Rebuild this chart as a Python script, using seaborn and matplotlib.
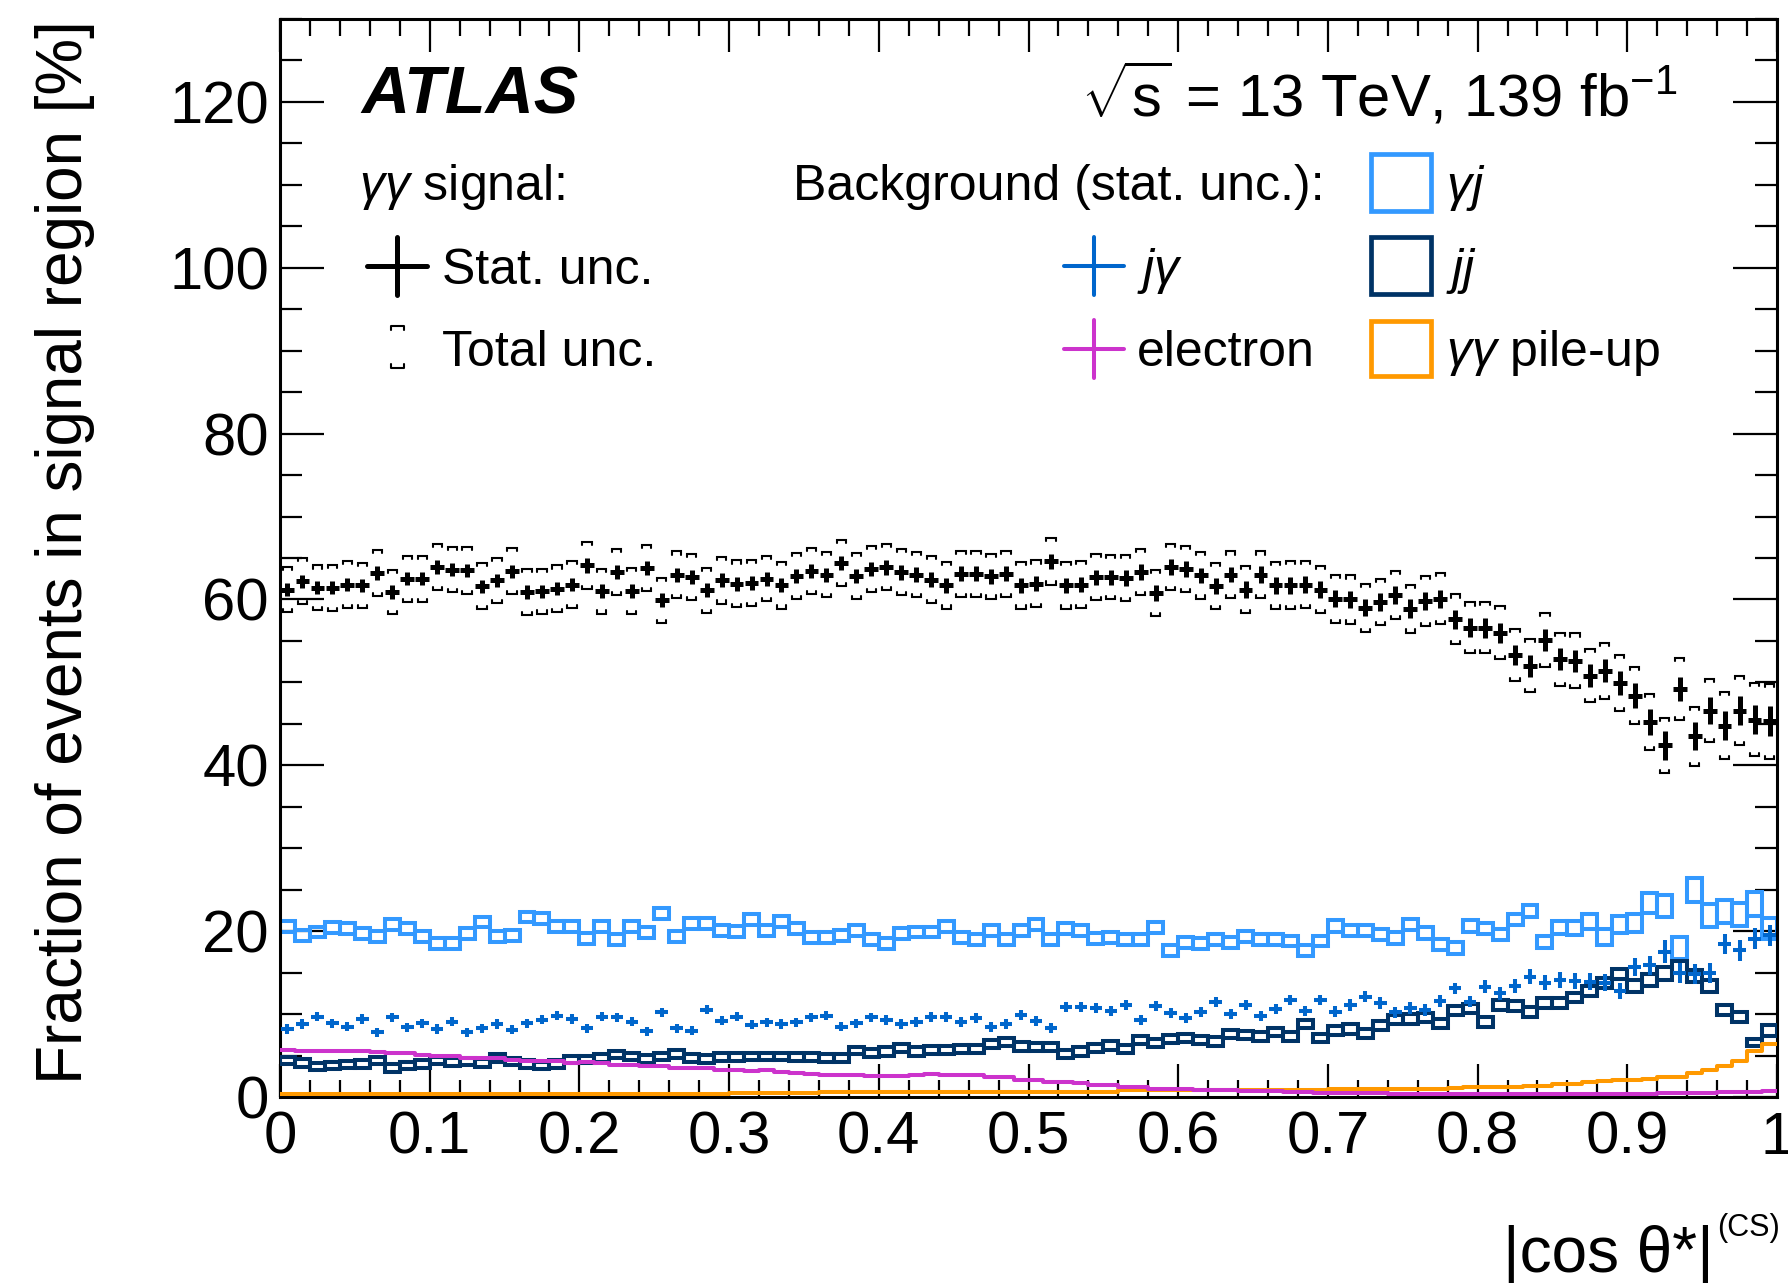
import numpy as np
import pandas as pd
import matplotlib
matplotlib.use("Agg")
import matplotlib.pyplot as plt
import seaborn as sns
from matplotlib.lines import Line2D
from matplotlib.patches import Rectangle
from matplotlib.ticker import MultipleLocator, FuncFormatter

# ---------------- data (100 bins of |cos theta*|, width 0.01) ----------------
bin_edges = np.linspace(0.0, 1.0, 101)

signal = [61.2, 62.2, 61.4, 61.4, 61.8, 61.7, 63.2, 60.9, 62.5, 62.5,
          63.9, 63.6, 63.5, 61.6, 62.3, 63.4, 60.9, 61.0, 61.3, 61.8,
          64.1, 61.0, 63.3, 61.0, 63.8, 59.9, 63.0, 62.7, 61.1, 62.3,
          61.9, 62.0, 62.5, 61.7, 62.8, 63.4, 63.0, 64.4, 62.8, 63.7,
          63.9, 63.3, 63.0, 62.4, 61.7, 63.1, 63.1, 62.8, 63.1, 61.7,
          61.9, 64.6, 61.7, 61.8, 62.7, 62.7, 62.6, 63.3, 60.8, 63.9,
          63.7, 62.9, 61.6, 63.0, 61.2, 63.0, 61.7, 61.7, 61.8, 61.2,
          60.1, 60.0, 59.0, 59.7, 60.5, 58.9, 59.8, 60.1, 57.6, 56.6,
          56.6, 56.0, 53.3, 52.0, 55.1, 52.8, 52.6, 50.8, 51.4, 49.9,
          48.4, 45.2, 42.4, 49.2, 43.5, 46.6, 44.8, 46.6, 45.5, 45.3]

signal_stat = [0.8, 0.8, 0.8, 0.8, 0.8, 0.8, 0.8, 0.8, 0.8, 0.8,
               0.8, 0.8, 0.8, 0.8, 0.8, 0.8, 0.8, 0.8, 0.8, 0.8,
               0.85, 0.85, 0.85, 0.85, 0.85, 0.85, 0.85, 0.85, 0.85, 0.85,
               0.85, 0.85, 0.85, 0.85, 0.85, 0.85, 0.85, 0.85, 0.85, 0.85,
               0.9, 0.9, 0.9, 0.9, 0.9, 0.9, 0.9, 0.9, 0.9, 0.9,
               0.9, 0.9, 0.9, 0.9, 0.9, 0.9, 0.95, 0.95, 0.95, 0.95,
               0.95, 0.95, 0.95, 0.95, 1.0, 1.0, 1.0, 1.0, 1.0, 1.0,
               1.05, 1.05, 1.05, 1.05, 1.1, 1.1, 1.1, 1.1, 1.15, 1.15,
               1.2, 1.2, 1.25, 1.3, 1.3, 1.35, 1.35, 1.4, 1.4, 1.45,
               1.5, 1.55, 1.7, 1.5, 1.7, 1.65, 1.8, 1.7, 1.75, 1.8]

signal_total = [2.7, 2.8, 2.7, 2.8, 2.8, 2.7, 2.8, 2.7, 2.8, 2.8,
                2.8, 2.7, 2.8, 2.8, 2.7, 2.8, 2.8, 2.7, 2.8, 2.8,
                2.8, 2.7, 2.8, 2.8, 2.8, 2.7, 2.8, 2.8, 2.7, 2.8,
                2.8, 2.8, 2.7, 2.8, 2.8, 2.8, 2.7, 2.8, 2.8, 2.8,
                2.8, 2.8, 2.7, 2.8, 2.8, 2.8, 2.8, 2.7, 2.8, 2.8,
                2.8, 2.8, 2.8, 2.8, 2.8, 2.7, 2.8, 2.8, 2.8, 2.8,
                2.8, 2.8, 2.8, 2.8, 2.8, 2.8, 2.8, 2.9, 2.8, 2.8,
                2.9, 2.9, 2.9, 2.8, 2.9, 2.9, 3.0, 3.1, 3.0, 3.05,
                3.1, 3.2, 3.1, 3.2, 3.3, 3.2, 3.3, 3.2, 3.4, 3.4,
                3.45, 3.4, 3.3, 3.7, 3.55, 3.8, 4.0, 4.2, 4.4, 4.5]

bkg_gj = [20.6, 19.5, 19.9, 20.4, 20.3, 19.7, 19.4, 20.8, 20.3, 19.4,
          18.5, 18.5, 19.7, 21.1, 19.4, 19.5, 21.7, 21.5, 20.6, 20.6,
          19.1, 20.6, 19.0, 20.6, 19.8, 22.1, 19.4, 20.9, 20.9, 20.1,
          20.0, 21.4, 20.1, 21.2, 20.3, 19.2, 19.2, 19.5, 20.1, 19.0,
          18.5, 19.7, 19.9, 19.9, 20.6, 19.2, 19.0, 20.1, 19.0, 20.1,
          20.8, 19.0, 20.3, 20.1, 19.1, 19.2, 19.0, 19.0, 20.4, 17.7,
          18.6, 18.5, 19.0, 18.6, 19.4, 19.0, 19.0, 18.8, 17.7, 18.8,
          20.6, 20.1, 20.1, 19.6, 19.2, 20.8, 19.8, 18.4, 18.0, 20.6,
          20.3, 19.6, 21.4, 22.4, 18.7, 20.4, 20.4, 21.2, 19.3, 20.8,
          21.0, 23.4, 23.0, 18.0, 25.0, 21.9, 22.4, 22.0, 23.3, 20.3]

bkg_gj_err = [0.65] * 70 + [0.7] * 15 + [0.8, 0.85, 0.9, 0.95, 1.0,
              1.1, 1.25, 1.3, 1.3, 1.45, 1.4, 1.4, 1.35, 1.45, 1.3]

bkg_jg = [8.2, 8.8, 9.7, 8.9, 8.5, 9.4, 7.8, 9.6, 8.4, 8.9,
          8.2, 9.1, 7.8, 8.3, 8.8, 8.1, 8.9, 9.3, 9.8, 9.4,
          8.3, 9.7, 9.6, 9.1, 7.9, 10.2, 8.3, 8.0, 10.5, 9.2,
          9.7, 8.7, 9.0, 8.8, 9.0, 9.6, 9.8, 8.5, 8.9, 9.6,
          9.3, 8.8, 9.1, 9.6, 9.7, 9.1, 9.5, 8.4, 8.8, 9.9,
          9.2, 8.3, 10.8, 10.8, 10.7, 10.4, 11.1, 9.3, 11.0, 10.1,
          9.5, 10.2, 11.5, 10.0, 11.1, 9.8, 10.6, 11.7, 10.4, 11.7,
          10.3, 11.1, 12.1, 11.3, 10.2, 10.7, 10.5, 11.6, 13.1, 11.5,
          13.3, 12.5, 13.4, 14.5, 13.8, 14.1, 14.0, 13.9, 13.8, 12.8,
          15.7, 15.9, 17.5, 14.9, 14.8, 15.0, 18.5, 17.7, 19.1, 19.5]

bkg_jg_err = [0.55] * 40 + [0.6] * 30 + [0.7] * 10 + [0.8, 0.8, 0.85, 0.9, 0.9,
              0.95, 0.95, 1.0, 1.0, 1.0, 1.1, 1.15, 1.4, 1.2, 1.2,
              1.2, 1.2, 1.25, 1.25, 1.3]

bkg_jj = [4.4, 4.1, 3.7, 3.8, 3.9, 4.0, 4.4, 3.5, 3.8, 4.0,
          4.4, 4.2, 4.3, 4.1, 4.7, 4.3, 4.0, 3.8, 4.0, 4.5,
          4.5, 4.7, 5.1, 4.9, 4.6, 4.9, 5.2, 4.7, 4.6, 4.8,
          4.8, 4.9, 4.9, 4.9, 4.8, 4.8, 4.7, 4.7, 5.6, 5.3,
          5.5, 5.9, 5.5, 5.7, 5.7, 5.8, 5.8, 6.4, 6.6, 6.1,
          6.0, 6.0, 5.2, 5.5, 5.9, 6.2, 5.8, 6.9, 6.5, 7.0,
          7.1, 6.9, 6.7, 7.6, 7.5, 7.3, 7.8, 7.3, 8.8, 7.1,
          8.0, 8.2, 7.7, 8.6, 9.3, 9.4, 9.6, 8.9, 10.4, 10.7,
          9.0, 11.1, 11.0, 10.2, 11.3, 11.3, 12.0, 12.8, 13.7, 14.8,
          13.4, 14.1, 14.9, 15.7, 14.6, 13.4, 10.5, 9.7, 6.6, 8.0]

bkg_jj_err = [0.45] * 40 + [0.5] * 30 + [0.55] * 10 + [0.6] * 10 + [0.7, 0.7, 0.75,
              0.75, 0.75, 0.75, 0.6, 0.6, 0.4, 0.65]

bkg_electron = [5.7, 5.6, 5.6, 5.5, 5.5, 5.5, 5.4, 5.3, 5.3, 5.1,
                5.0, 4.9, 4.7, 4.7, 4.7, 4.5, 4.4, 4.4, 4.3, 4.1,
                4.2, 4.1, 3.9, 3.8, 3.7, 3.7, 3.5, 3.5, 3.5, 3.3,
                3.3, 3.1, 3.2, 3.0, 2.9, 2.8, 2.7, 2.7, 2.6, 2.5,
                2.5, 2.5, 2.7, 2.8, 2.7, 2.6, 2.6, 2.4, 2.4, 2.1,
                2.1, 1.8, 1.8, 1.7, 1.4, 1.4, 1.2, 1.2, 1.0, 1.0,
                1.0, 0.8, 0.8, 0.8, 0.75, 0.7, 0.7, 0.6, 0.6, 0.5,
                0.45, 0.45, 0.45, 0.45, 0.4, 0.4, 0.4, 0.4, 0.4, 0.4,
                0.4, 0.4, 0.4, 0.4, 0.4, 0.4, 0.4, 0.4, 0.4, 0.4,
                0.4, 0.4, 0.45, 0.45, 0.45, 0.5, 0.55, 0.6, 0.65, 0.7]

bkg_pileup = [0.4, 0.4, 0.4, 0.4, 0.4, 0.4, 0.4, 0.4, 0.4, 0.4,
              0.4, 0.4, 0.4, 0.4, 0.4, 0.4, 0.4, 0.4, 0.4, 0.4,
              0.4, 0.4, 0.4, 0.4, 0.4, 0.4, 0.4, 0.4, 0.4, 0.4,
              0.5, 0.5, 0.5, 0.5, 0.5, 0.5, 0.55, 0.55, 0.55, 0.55,
              0.6, 0.6, 0.6, 0.6, 0.6, 0.6, 0.65, 0.65, 0.65, 0.65,
              0.65, 0.65, 0.65, 0.65, 0.65, 0.65, 0.8, 0.8, 0.8, 0.8,
              0.8, 0.85, 0.85, 0.85, 0.85, 0.85, 0.85, 0.9, 0.9, 0.9,
              0.95, 1.0, 1.0, 1.0, 1.0, 1.0, 1.0, 1.0, 1.05, 1.2,
              1.2, 1.25, 1.25, 1.3, 1.3, 1.6, 1.6, 1.8, 1.9, 2.0,
              2.1, 2.2, 2.4, 2.4, 2.9, 3.3, 3.7, 4.4, 5.5, 6.4]

x_ticks = [0.0, 0.1, 0.2, 0.3, 0.4, 0.5, 0.6, 0.7, 0.8, 0.9, 1.0]
y_ticks = [0, 20, 40, 60, 80, 100, 120]

C_GJ = "#3399FF"
C_JG = "#0066CC"
C_JJ = "#003366"
C_EL = "#CC33CC"
C_PU = "#FF9900"

# ---------------- style ----------------
sns.set_theme(style="ticks")
plt.rcParams["font.family"] = ["Liberation Sans", "DejaVu Sans"]
plt.rcParams["mathtext.fontset"] = "custom"
plt.rcParams["mathtext.rm"] = "Liberation Sans"
plt.rcParams["mathtext.it"] = "Liberation Sans:italic"
plt.rcParams["mathtext.bf"] = "Liberation Sans:bold"
for k in ["text.color", "axes.labelcolor", "xtick.color", "ytick.color", "axes.edgecolor"]:
    plt.rcParams[k] = "black"

W, H = 1788, 1283
fig = plt.figure(figsize=(W / 100, H / 100), dpi=100)
fig.patch.set_facecolor("white")
ax = fig.add_axes([280 / W, 1 - 1097 / H, 1497 / W, 1078 / H])
ax.set_facecolor("white")

centers = 0.5 * (bin_edges[:-1] + bin_edges[1:])
width = np.diff(bin_edges)

sig = np.array(signal)
sstat = np.array(signal_stat)
stot = np.array(signal_total)


def boxes(vals, errs, color, z, lw=2.9):
    v = np.array(vals)
    e = np.array(errs)
    ax.bar(centers, 2 * e, bottom=v - e, width=width, fill=False,
           edgecolor=color, linewidth=lw, zorder=z, align="center")


# background: gamma-j boxes
boxes(bkg_gj, bkg_gj_err, C_GJ, 2)
# jj boxes
boxes(bkg_jj, bkg_jj_err, C_JJ, 3)
# j-gamma crosses
ax.errorbar(centers, bkg_jg, yerr=bkg_jg_err, xerr=0.0042, fmt="none",
            ecolor=C_JG, elinewidth=2.9, capsize=0, zorder=4)

# pile-up and electron as step lines (seaborn)
df_pu = pd.DataFrame({"x": bin_edges, "y": np.append(bkg_pileup, bkg_pileup[-1])})
df_el = pd.DataFrame({"x": bin_edges, "y": np.append(bkg_electron, bkg_electron[-1])})
sns.lineplot(data=df_pu, x="x", y="y", ax=ax, color=C_PU, lw=2.9,
             drawstyle="steps-post", estimator=None, sort=False, legend=False, zorder=5)
sns.lineplot(data=df_el, x="x", y="y", ax=ax, color=C_EL, lw=2.9,
             drawstyle="steps-post", estimator=None, sort=False, legend=False, zorder=5.5)

# signal total uncertainty brackets
bw = 0.0031
leg = 0.38
bx, by = [], []
for xc, yc, t in zip(centers, sig, stot):
    up, lo = yc + t, yc - t
    bx += [xc - bw, xc - bw, xc + bw, xc + bw, np.nan]
    by += [up - leg, up, up, up - leg, np.nan]
    bx += [xc - bw, xc - bw, xc + bw, xc + bw, np.nan]
    by += [lo + leg, lo, lo, lo + leg, np.nan]
ax.plot(bx, by, color="black", lw=1.5, zorder=9, solid_joinstyle="miter")

# signal stat crosses
ax.errorbar(centers, sig, yerr=sstat, xerr=0.0046, fmt="none",
            ecolor="black", elinewidth=3.6, capsize=0, zorder=10)

# ---------------- axes ----------------
ax.set_xlim(0, 1)
ax.set_ylim(0, 130)
ax.set_xticks(x_ticks)
ax.set_yticks(y_ticks)
ax.xaxis.set_minor_locator(MultipleLocator(0.02))
ax.yaxis.set_minor_locator(MultipleLocator(5))
ax.xaxis.set_major_formatter(FuncFormatter(lambda v, p: f"{v:g}"))
ax.yaxis.set_major_formatter(FuncFormatter(lambda v, p: f"{v:g}"))
ax.tick_params(which="both", direction="in", top=True, right=True,
               width=1.6, color="black", labelcolor="black")
ax.tick_params(axis="y", which="major", length=32, labelsize=43, pad=8)
ax.tick_params(axis="y", which="minor", length=16)
ax.tick_params(axis="x", which="major", length=24, labelsize=43, pad=10)
ax.tick_params(axis="x", which="minor", length=12)
for s in ax.spines.values():
    s.set_linewidth(2.2)
    s.set_color("black")
ax.set_xlabel("")
ax.set_ylabel("")

fig.text(65 / W, 1 - 20 / H, "Fraction of events in signal region [%]",
         rotation=90, ha="center", va="top", fontsize=46, color="black")
fig.text(1714 / W, 1 - 1272 / H, "|cos θ*|", ha="right", va="baseline",
         fontsize=46, color="black")
fig.text(1717 / W, 1 - 1236 / H, "(CS)", ha="left", va="baseline",
         fontsize=22, color="black")

# ---------------- annotations / legend ----------------
def fx(p):
    return p / W


def fy(p):
    return 1 - p / H


fig.text(fx(361), fy(114), "ATLAS", fontsize=48, fontweight="bold",
         fontstyle="italic", ha="left", va="baseline", color="black")
fig.text(fx(1081), fy(116), r"$\sqrt{\mathrm{s}}$ = 13 TeV, 139 fb$^{\mathrm{-1}}$",
         fontsize=43, ha="left", va="baseline", color="black")

fs = 36
kw = dict(fontsize=fs, ha="left", va="baseline", color="black")
fig.text(fx(359), fy(200), r"$γγ$ signal:", **kw)
fig.text(fx(793), fy(200), "Background (stat. unc.):", **kw)
fig.text(fx(442), fy(284), "Stat. unc.", **kw)
fig.text(fx(442), fy(366), "Total unc.", **kw)
fig.text(fx(1137), fy(284), r"$jγ$", **kw)
fig.text(fx(1137), fy(366), "electron", **kw)
fig.text(fx(1446), fy(201), r"$γj$", **kw)
fig.text(fx(1446), fy(284), r"$jj$", **kw)
fig.text(fx(1446), fy(366), r"$γγ$ pile-up", **kw)


def cross(cx, cy, color, lw):
    fig.add_artist(Line2D([fx(cx - 30), fx(cx + 30)], [fy(cy), fy(cy)],
                          color=color, lw=lw, transform=fig.transFigure))
    fig.add_artist(Line2D([fx(cx), fx(cx)], [fy(cy - 29), fy(cy + 29)],
                          color=color, lw=lw, transform=fig.transFigure))


cross(397, 266, "black", 3.6)
cross(1094, 266, C_JG, 2.9)
cross(1094, 349, C_EL, 2.9)

for x0, y0, y1, c in [(1371, 154, 211, C_GJ), (1371, 237, 294, C_JJ), (1371, 321, 376, C_PU)]:
    fig.add_artist(Rectangle((fx(x0), fy(y1)), 60 / W, (y1 - y0) / H, fill=False,
                             edgecolor=c, lw=3.4, transform=fig.transFigure))

# total unc legend brackets
fig.add_artist(Line2D([fx(391), fx(391), fx(404), fx(404)],
                      [fy(330), fy(326), fy(326), fy(330)], color="black", lw=1.5,
                      transform=fig.transFigure))
fig.add_artist(Line2D([fx(391), fx(391), fx(404), fx(404)],
                      [fy(364), fy(368), fy(368), fy(364)], color="black", lw=1.5,
                      transform=fig.transFigure))

fig.savefig("out.png", dpi=100, facecolor="white")
